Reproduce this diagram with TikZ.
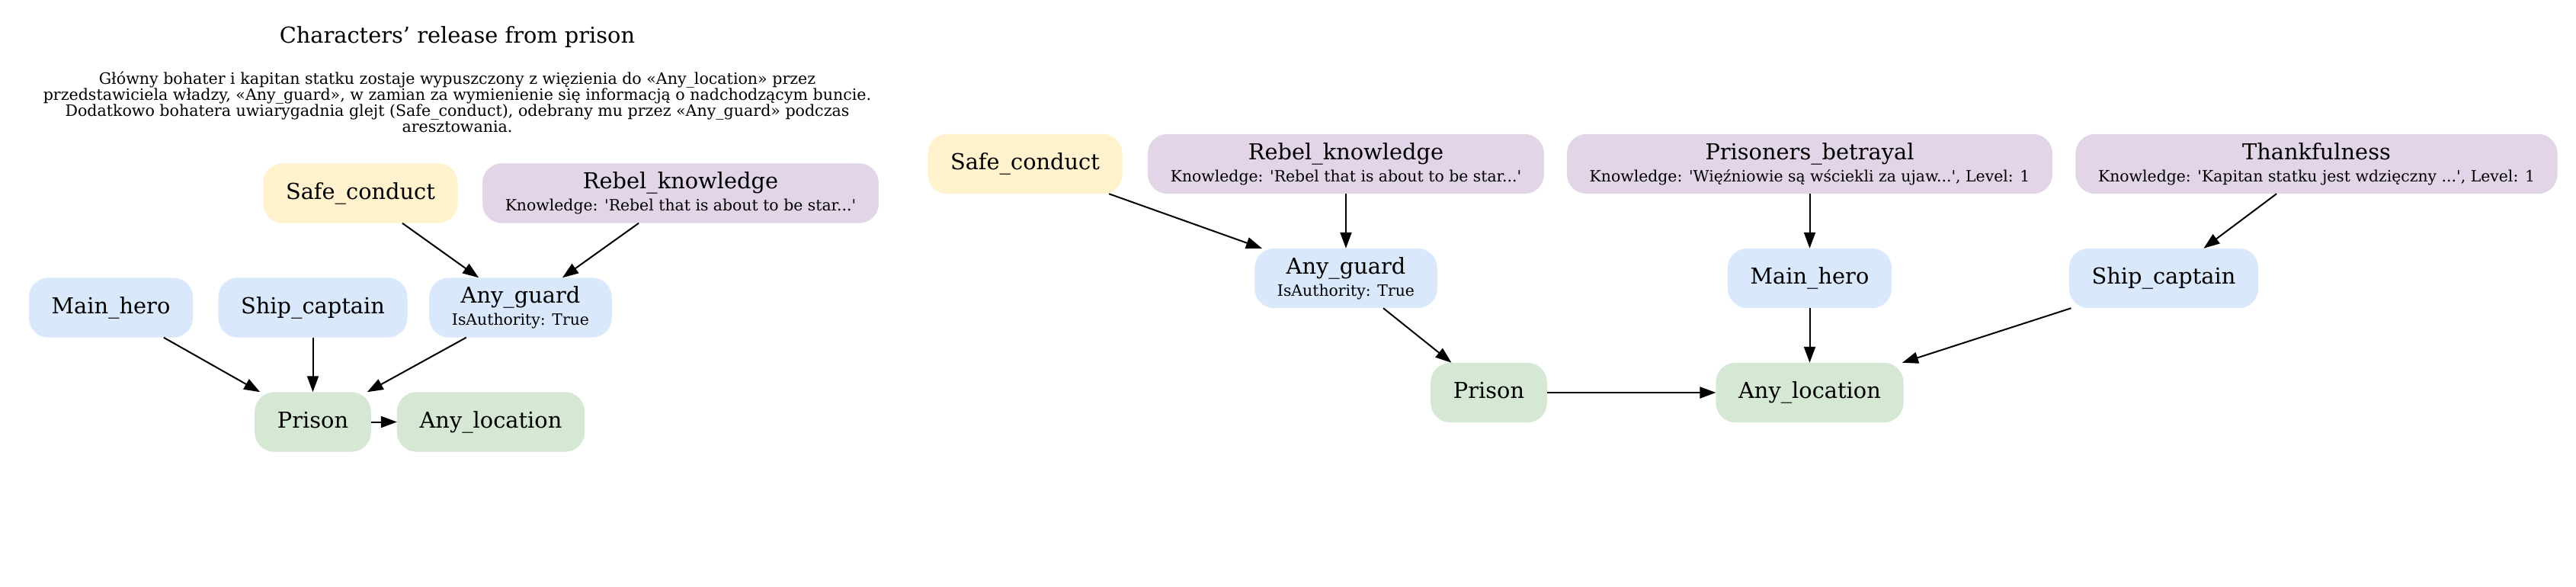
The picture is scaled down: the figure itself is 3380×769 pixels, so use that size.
\documentclass[tikz,border=0pt]{standalone}
\usepackage{fontspec}
\newfontfamily\dejavu{DejaVu Serif}
\usetikzlibrary{arrows.meta}
\definecolor{actorblue}{HTML}{DAE8FC}
\definecolor{placegreen}{HTML}{D5E8D4}
\definecolor{itemyellow}{HTML}{FFF2CC}
\definecolor{factpurple}{HTML}{E1D5E7}
\newcommand{\subline}[1]{{\fontsize{5.8}{6}\selectfont #1}}
\begin{document}
\begin{tikzpicture}[x=0.01cm,y=-0.01cm,
    font=\dejavu\fontsize{8.2}{8.3}\selectfont,
    box/.style={rectangle,rounded corners=0.25cm,minimum height=0.77cm,
      inner xsep=0.29cm,inner ysep=0pt,align=center},
    one/.style={text height=6.2pt,text depth=1.9pt},
    character/.style={box,fill=actorblue,draw=actorblue},
    location/.style={box,fill=placegreen,draw=placegreen},
    item/.style={box,fill=itemyellow,draw=itemyellow},
    fact/.style={box,fill=factpurple,draw=factpurple}]
  \useasboundingbox (0,0) rectangle (3380,769);
  \draw
    (600,49) node (title){Characters’ release from prison}
    (600,134) node[align=center,inner sep=0pt,font=\dejavu\fontsize{5.85}{5.97}\selectfont] (desc){Główny bohater i kapitan statku zostaje wypuszczony z więzienia do «Any\_location» przez\\
      przedstawiciela władzy, «Any\_guard», w zamian za wymienienie się informacją o nadchodzącym buncie.\\
      Dodatkowo bohatera uwiarygadnia glejt (Safe\_conduct), odebrany mu przez «Any\_guard» podczas\\
      aresztowania.}
    (473,253.5) node[item,one] (lsafe){Safe\_conduct}
    (893,253.5) node[fact] (lrebel){Rebel\_knowledge\\\subline{Knowledge: 'Rebel that is about to be star...'}}
    (145.5,403.5) node[character,one] (lmain){Main\_hero}
    (410.5,403.5) node[character,one] (lship){Ship\_captain}
    (683,403.5) node[character] (lguard){Any\_guard\\\subline{IsAuthority: True}}
    (410.5,553.5) node[location,one] (lprison){Prison}
    (644,553.5) node[location,one] (lloc){Any\_location}
    (1345,215) node[item,one] (rsafe){Safe\_conduct}
    (1766,215) node[fact] (rrebel){Rebel\_knowledge\\\subline{Knowledge: 'Rebel that is about to be star...'}}
    (2374.5,215) node[fact] (rbetray){Prisoners\_betrayal\\\subline{Knowledge: 'Więźniowie są wściekli za ujaw...', Level: 1}}
    (3039.5,215) node[fact] (rthank){Thankfulness\\\subline{Knowledge: 'Kapitan statku jest wdzięczny ...', Level: 1}}
    (1766,365) node[character] (rguard){Any\_guard\\\subline{IsAuthority: True}}
    (2374.5,365) node[character,one] (rmain){Main\_hero}
    (2839,365) node[character,one] (rship){Ship\_captain}
    (1953.5,515) node[location,one] (rprison){Prison}
    (2374.5,515) node[location,one] (rloc){Any\_location};
  \begin{scope}[->,>={Triangle[length=0.21cm,width=0.15cm]},line width=0.02cm]
    \draw (lsafe) to (lguard);
    \draw (lrebel) to (lguard);
    \draw (lmain) to (lprison);
    \draw (lship) to (lprison);
    \draw (lguard) to (lprison);
    \draw (lprison) to (lloc);
    \draw (rsafe) to (rguard);
    \draw (rrebel) to (rguard);
    \draw (rguard) to (rprison);
    \draw (rprison) to (rloc);
    \draw (rbetray) to (rmain);
    \draw (rmain) to (rloc);
    \draw (rthank) to (rship);
    \draw (rship) to (rloc);
  \end{scope}
\end{tikzpicture}
\end{document}
